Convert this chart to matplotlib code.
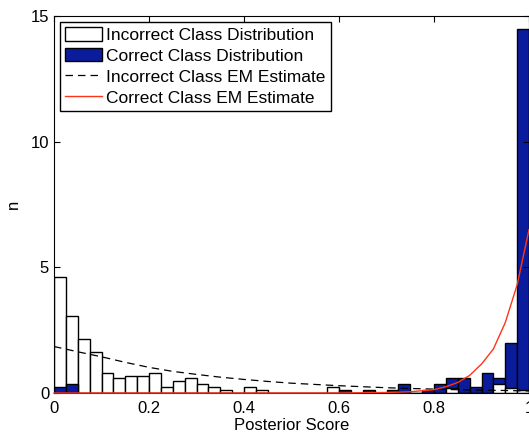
import matplotlib
matplotlib.use("Agg")
import matplotlib.pyplot as plt
import numpy as np

plt.rcParams['font.family'] = ['Liberation Sans', 'DejaVu Sans']

# histogram bins: 40 bins of width 0.025 from 0 to 1
bin_edges = np.arange(0, 1.0, 0.025)
bin_w = 0.025

incorrect_n = [4.6, 3.07, 2.14, 1.65, 0.81, 0.58, 0.69, 0.69, 0.81, 0.23,
               0.46, 0.58, 0.35, 0.23, 0.12, 0.0, 0.23, 0.12, 0.0, 0.0,
               0.0, 0.0, 0.0, 0.23, 0.0, 0.0, 0.0, 0.0, 0.0, 0.0,
               0.0, 0.0, 0.0, 0.21, 0.0, 0.0, 0.0, 0.35, 0.21, 0.1]
correct_n = [0.23, 0.35, 0.0, 0.0, 0.0, 0.0, 0.0, 0.0, 0.0, 0.0,
             0.0, 0.0, 0.0, 0.0, 0.0, 0.0, 0.0, 0.0, 0.0, 0.0,
             0.0, 0.0, 0.0, 0.0, 0.12, 0.0, 0.12, 0.0, 0.12, 0.35,
             0.0, 0.12, 0.35, 0.58, 0.58, 0.23, 0.81, 0.58, 2.0, 14.5]

# EM estimate curves
inc_em_x = [0, 0.05, 0.1, 0.15, 0.2, 0.25, 0.3, 0.35, 0.4, 0.45, 0.5,
            0.55, 0.6, 0.65, 0.7, 0.75, 0.8, 0.85, 0.9, 0.95, 1.0]
inc_em_y = [1.85, 1.64, 1.44, 1.22, 1.02, 0.86, 0.74, 0.63, 0.54, 0.46, 0.39,
            0.34, 0.29, 0.25, 0.21, 0.18, 0.155, 0.13, 0.11, 0.1, 0.08]
cor_em_x = [0, 0.6, 0.7, 0.75, 0.8, 0.825, 0.85, 0.875, 0.9, 0.925, 0.95, 0.975, 1.0]
cor_em_y = [0, 0.0, 0.02, 0.05, 0.13, 0.25, 0.42, 0.7, 1.15, 1.75, 2.8, 4.3, 6.5]

blue = '#0a1c9c'
red = '#ff3418'

fig = plt.figure(figsize=(5.29, 4.34), dpi=100)
ax = fig.add_axes([54/529, 41/434, 475/529, 377/434])

wb = ax.bar(bin_edges, incorrect_n, width=bin_w, align='edge', color='white',
            edgecolor='black', linewidth=1.0, label='Incorrect Class Distribution')
cb = ax.bar(bin_edges, correct_n, width=bin_w, align='edge', color=blue,
            edgecolor='black', linewidth=1.0, label='Correct Class Distribution')
# the shorter bar of each bin sits in front
for pw, pc, a, b in zip(wb, cb, incorrect_n, correct_n):
    if a >= b:
        pw.set_zorder(1.0)
        pc.set_zorder(1.1)
    else:
        pc.set_zorder(1.0)
        pw.set_zorder(1.1)

l1, = ax.plot(inc_em_x, inc_em_y, '--', color='black', linewidth=0.9, dashes=(6, 4),
              label='Incorrect Class EM Estimate', zorder=3)
l2, = ax.plot(cor_em_x, cor_em_y, '-', color=red, linewidth=1.0,
              label='Correct Class EM Estimate', zorder=4, clip_on=False)

ax.set_xlim(0, 1)
ax.set_ylim(0, 15)
ax.set_xticks([0, 0.2, 0.4, 0.6, 0.8, 1])
ax.set_xticklabels(['0', '0.2', '0.4', '0.6', '0.8', '1'])
ax.set_yticks([0, 5, 10, 15])
ax.tick_params(direction='in', top=True, right=True, labelsize=12, length=4)
ax.tick_params(axis='x', pad=6)
ax.set_xlabel('Posterior Score', fontsize=12, labelpad=1)
ax.set_ylabel('n', fontsize=12, labelpad=7)

leg = ax.legend([wb, cb, l1, l2],
                ['Incorrect Class Distribution', 'Correct Class Distribution',
                 'Incorrect Class EM Estimate', 'Correct Class EM Estimate'],
                loc='upper left', fontsize=12.5, fancybox=False, framealpha=1,
                edgecolor='black', borderaxespad=0.35, handlelength=2.1,
                handleheight=0.8, handletextpad=0.25, labelspacing=0.3,
                borderpad=0.3)
leg.get_frame().set_linewidth(1.0)

fig.savefig('out.png', dpi=100)
